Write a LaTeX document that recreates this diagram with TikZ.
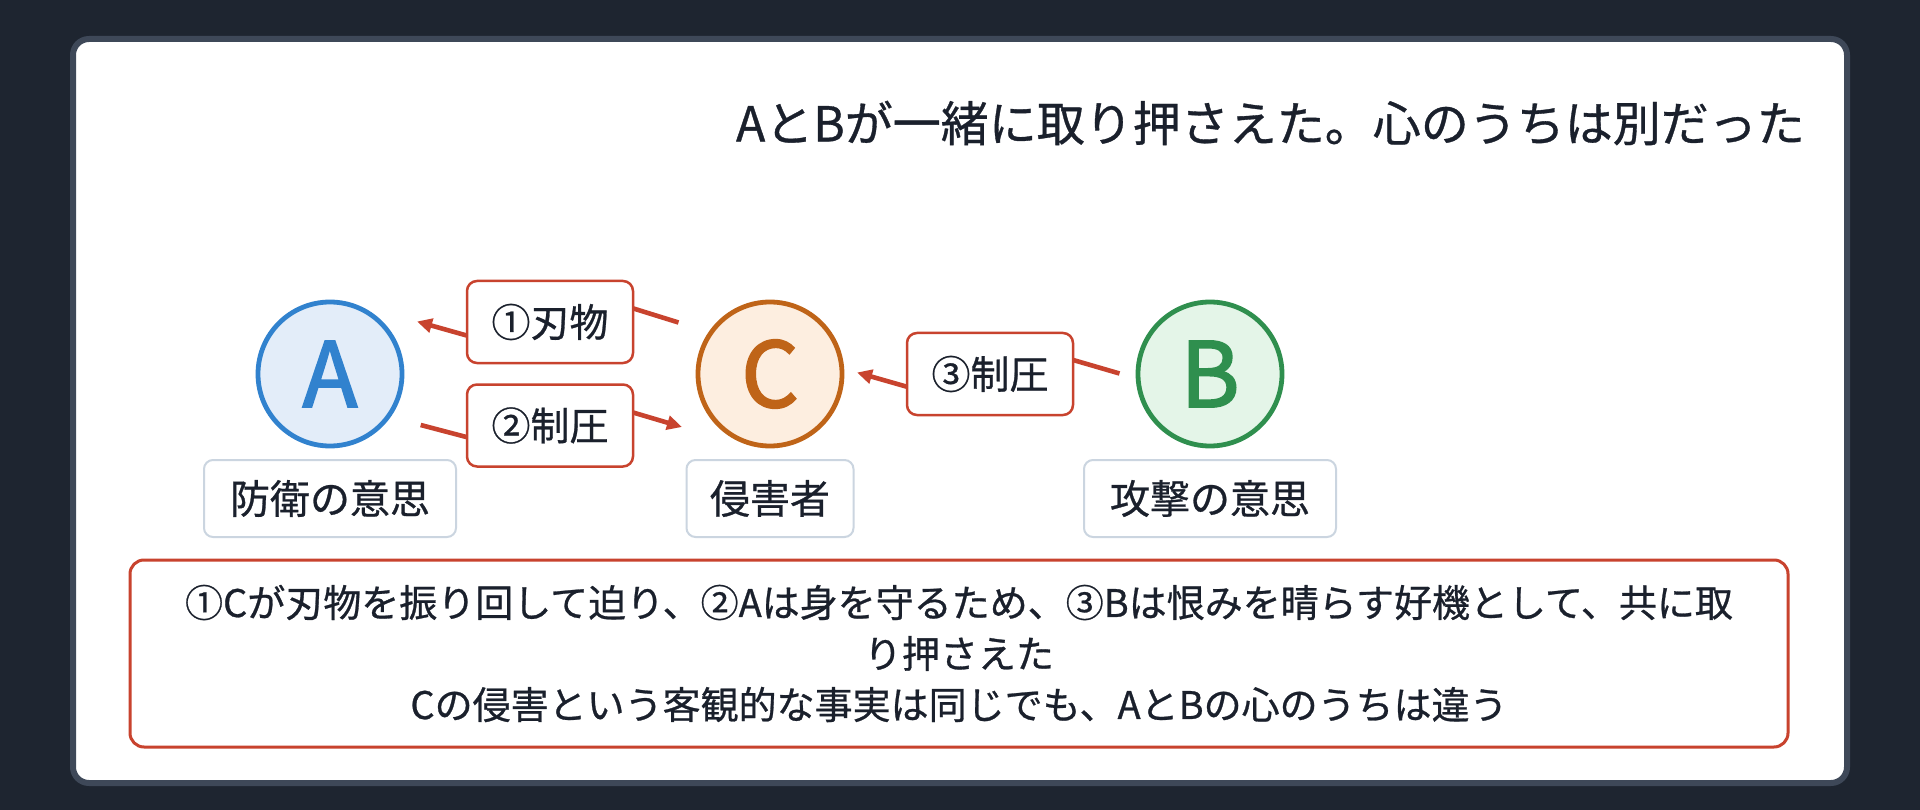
\documentclass[tikz,border=0pt]{standalone}
\usepackage{fontspec}
\setmainfont{Noto Sans CJK JP}[FakeBold=0.7]
\newfontfamily\letterfont{Noto Sans CJK JP}[FakeBold=2.2]
\usetikzlibrary{arrows.meta}
\definecolor{pagebg}{HTML}{1E2530}
\definecolor{cardborder}{HTML}{3E4858}
\definecolor{ink}{HTML}{1A202C}
\definecolor{redc}{HTML}{C8432E}
\definecolor{grayb}{HTML}{CBD5E0}
\definecolor{bluec}{HTML}{3182CE}
\definecolor{bluef}{HTML}{E3EDF9}
\definecolor{orangec}{HTML}{BF6418}
\definecolor{orangef}{HTML}{FDEEE0}
\definecolor{greenc}{HTML}{2F8F4E}
\definecolor{greenf}{HTML}{E4F5E8}
\pgfdeclarelayer{bglayer}
\pgfdeclarelayer{edgelayer}
\pgfsetlayers{bglayer,edgelayer,main}
\tikzset{
  person/.style={circle, line width=4.8pt, minimum size=144pt, inner sep=0pt,
    font=\letterfont\fontsize{90pt}{100pt}\selectfont},
  rolebox/.style={draw=grayb, fill=white, line width=2pt, rounded corners=9pt,
    minimum width=252pt, minimum height=77pt, inner sep=0pt, text=ink,
    font=\fontsize{40pt}{48pt}\selectfont},
  edgelabel/.style={draw=redc, fill=white, line width=2.5pt, rounded corners=10pt,
    minimum width=166pt, minimum height=82pt, inner sep=0pt, text=ink,
    font=\fontsize{39pt}{46pt}\selectfont},
  edge/.style={draw=redc, line width=4.6pt, -{Triangle[length=15pt,width=14pt]}},
  plainedge/.style={draw=redc, line width=4.6pt},
}
\begin{document}
\begin{tikzpicture}[x=1pt,y=-1pt]
\useasboundingbox (0,0) rectangle (1920,810);
\begin{pgfonlayer}{bglayer}
\fill[pagebg] (0,0) rectangle (1920,810);
\draw[cardborder, fill=white, line width=6pt, rounded corners=16pt] (73,39) rectangle (1847,783);
\end{pgfonlayer}

% title
\node[anchor=east, inner sep=0pt, text=ink, font=\fontsize{48pt}{58pt}\selectfont] (title) at (1805,123) {AとBが一緒に取り押さえた。心のうちは別だった};

% persons
\node[person, draw=bluec, fill=bluef, text=bluec] (A) at (330,374) {A};
\node[person, draw=orangec, fill=orangef, text=orangec] (C) at (770,374) {C};
\node[person, draw=greenc, fill=greenf, text=greenc] (B) at (1210,374) {B};

% role labels
\node[rolebox] (Arole) at (330,498.5) {防衛の意思};
\node[rolebox, minimum width=167pt] (Crole) at (770,498.5) {侵害者};
\node[rolebox] (Brole) at (1210,498.5) {攻撃の意思};

% edge labels
\node[edgelabel] (l1) at (550,322) {①刃物};
\node[edgelabel] (l2) at (550,425.5) {②制圧};
\node[edgelabel] (l3) at (990,374) {③制圧};

% summary
\node[draw=redc, fill=white, line width=3pt, rounded corners=14pt,
      minimum width=1658pt, minimum height=187pt, inner sep=0pt]
      (sumbox) at (959,653.5) {};
\node[align=center, text=ink, inner sep=0pt, font=\fontsize{38pt}{51pt}\selectfont] (sumtext) at (sumbox.center)
  {①Cが刃物を振り回して迫り、②Aは身を守るため、③Bは恨みを晴らす好機として、共に取\\り押さえた\\Cの侵害という客観的な事実は同じでも、AとBの心のうちは違う};

% connector end points
\coordinate (e1s) at (678.5,322.5);
\coordinate (e1a) at (628,306.8);
\coordinate (e1b) at (472,337);
\coordinate (e1t) at (417,321.5);
\coordinate (e2s) at (420.7,425);
\coordinate (e2a) at (472,438.5);
\coordinate (e2b) at (628,411);
\coordinate (e2t) at (682,427);
\coordinate (e3s) at (1119.5,373.5);
\coordinate (e3a) at (1068,358.5);
\coordinate (e3b) at (912,388.2);
\coordinate (e3t) at (857,372.5);

\begin{pgfonlayer}{edgelayer}
\draw[plainedge] (e1s) -- (e1a);
\draw[edge] (e1b) -- (e1t);
\draw[plainedge] (e2s) -- (e2a);
\draw[edge] (e2b) -- (e2t);
\draw[plainedge] (e3s) -- (e3a);
\draw[edge] (e3b) -- (e3t);
\end{pgfonlayer}
\end{tikzpicture}
\end{document}
